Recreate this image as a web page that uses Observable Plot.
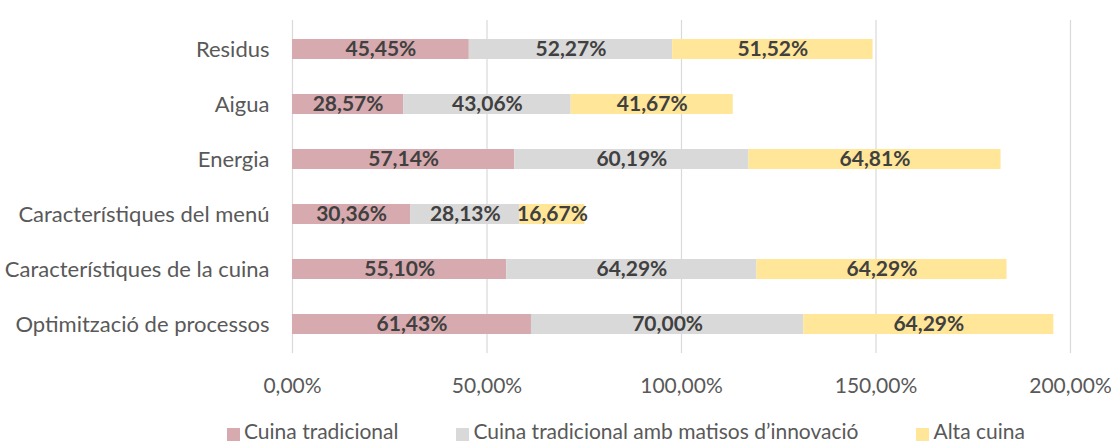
<!DOCTYPE html>
<html>
<head>
<meta charset="utf-8">
<script src="https://cdn.jsdelivr.net/npm/d3@7"></script>
<script src="https://cdn.jsdelivr.net/npm/@observablehq/plot@0.6"></script>
<style>
  html, body { margin: 0; padding: 0; background: #fff; overflow: hidden; }
  #chart { width: 1111px; height: 444px; position: relative; font-family: Lato, sans-serif; }
  .legend { position: absolute; left: 227px; top: 420px; display: flex; gap: 58px; font-size: 21px; line-height: 21px; color: #595959; white-space: nowrap; }
  .legend .item { display: flex; align-items: flex-start; }
  .legend .sw { width: 13px; height: 13px; margin-top: 8px; margin-right: 4px; }
</style>
</head>
<body>
<div id="chart"></div>
<script>
const categories = ["Residus", "Aigua", "Energia", "Característiques del menú", "Característiques de la cuina", "Optimització de processos"];
const seriesNames = ["Cuina tradicional", "Cuina tradicional amb matisos d’innovació", "Alta cuina"];
const seriesColors = ["#d6aaae", "#d9d9d9", "#ffe699"];
const tradicional = [45.45, 28.57, 57.14, 30.36, 55.10, 61.43];
const matisos = [52.27, 43.06, 60.19, 28.13, 64.29, 70.00];
const altaCuina = [51.52, 41.67, 64.81, 16.67, 64.29, 64.29];
const xTicks = [0, 50, 100, 150, 200];

const seriesValues = [tradicional, matisos, altaCuina];
const data = [];
categories.forEach((c, i) => {
  seriesNames.forEach((s, j) => data.push({cat: c, series: s, value: seriesValues[j][i]}));
});
const fmt = v => v.toFixed(2).replace(".", ",") + "%";

const plot = Plot.plot({
  width: 1111,
  height: 400,
  marginTop: 20,
  marginBottom: 47,
  marginLeft: 292,
  marginRight: 41,
  style: {fontFamily: "Lato, sans-serif", fontSize: "21px", background: "#fff"},
  x: {domain: [0, 200], label: null},
  y: {domain: categories, paddingInner: 0.64, paddingOuter: 0.32, label: null},
  color: {domain: seriesNames, range: seriesColors},
  marks: [
    Plot.gridX(xTicks, {stroke: "#d9d9d9", strokeOpacity: 1, strokeWidth: 1.2}),
    Plot.barX(data, Plot.stackX({x: "value", y: "cat", fill: "series", z: "series"})),
    Plot.text(data, Plot.stackX({x: "value", y: "cat", z: "series", text: d => fmt(d.value), fill: "#404040", fontWeight: "bold", fontSize: 21})),
    Plot.axisX({ticks: xTicks, tickSize: 0, tickPadding: 25, tickFormat: fmt, fill: "#595959", label: null}),
    Plot.axisY({tickSize: 0, tickPadding: 23, fill: "#595959", fontSize: 22, label: null})
  ]
});
const chart = document.getElementById("chart");
chart.appendChild(plot);

const legend = document.createElement("div");
legend.className = "legend";
seriesNames.forEach((s, j) => {
  const item = document.createElement("div");
  item.className = "item";
  const sw = document.createElement("span");
  sw.className = "sw";
  sw.style.background = seriesColors[j];
  const t = document.createElement("span");
  t.textContent = s;
  item.appendChild(sw);
  item.appendChild(t);
  legend.appendChild(item);
});
chart.appendChild(legend);
</script>
</body>
</html>
